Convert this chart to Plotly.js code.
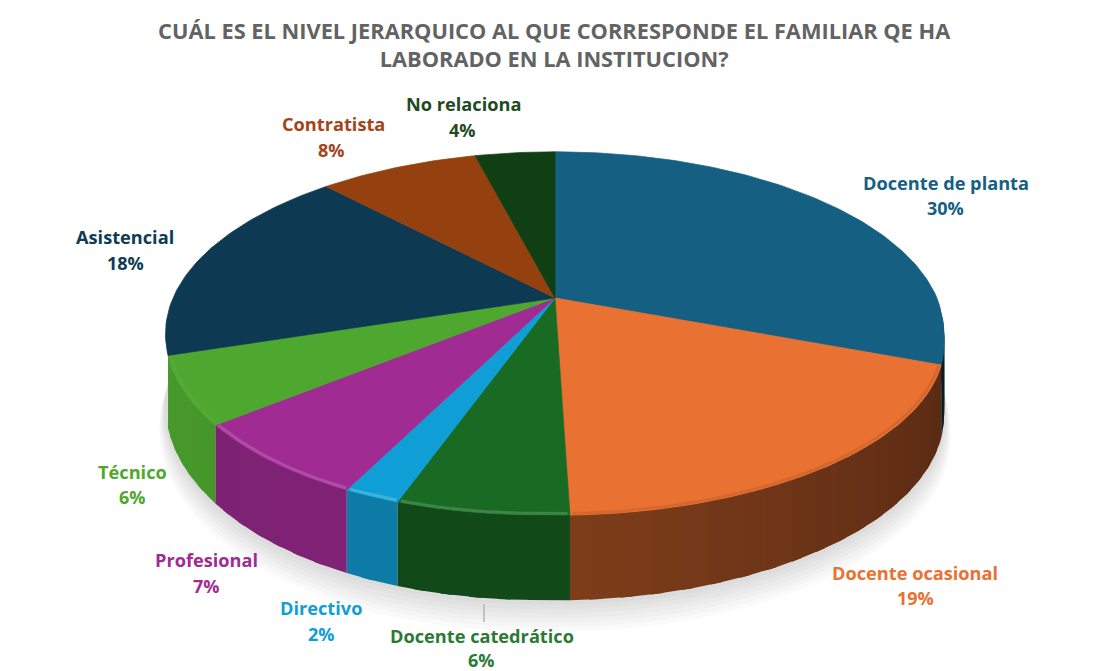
<!DOCTYPE html>
<html><head><meta charset="utf-8">
<script src="https://cdn.plot.ly/plotly-3.0.1.min.js"></script>
<style>html,body{margin:0;padding:0;background:#fff}#chart{width:1093px;height:671px}</style>
</head><body><div id="chart"></div>
<script>
// ---- data ----
var categories = ["Docente de planta","Docente ocasional","Docente catedrático","Directivo","Profesional","Técnico","Asistencial","Contratista","No relaciona"];
var percents = [30,19,6,2,7,6,18,8,4];
// ---- styles ----
var sliceColors = ["#156082","#E97132","#196B24","#0F9ED5","#A02B93","#4EA72E","#0D3A52","#94400F","#0F3F12"];
var labelColors = ["#156082","#E97132","#2A7A35","#0F9ED5","#A02B93","#4EA72E","#0F3B54","#A5431A","#1F4A22"];
var wallShadeStart = [0.30,0.38,0.68,0.78,0.80,0.90,0.6,0.6,0.6];
var wallShadeEnd   = [0.30,0.54,0.68,0.78,0.78,0.92,0.6,0.6,0.6];
var rimGain        = [0,-0.08,0.16,0.2,0.16,0.03,0,0,0];
var labelX = [946,915,482,321,206,132,125,333,463];
var labelY = [183,573,636,608,560,472,237,124,104];
var pctX   = [945,915,481,321,206,132,125,331,462];
var pctY   = [208,598,660,634,586,497,263,150,130];
var titleText = "CUÁL ES EL NIVEL JERARQUICO AL QUE CORRESPONDE EL FAMILIAR QE HA<br>LABORADO EN LA INSTITUCION?";
var fontStack = "Open Sans, Inter, sans-serif";

// ---- perspective disc projection (unit circle -> chart axes) ----
var cx = 555, cy = 298, bx = 382, by = 174.7, persp = 0.195, depth = 68.5, skew = -12, tilt = 10;
function project(deg, r, drop) {
  var t = deg * Math.PI / 180, u = r * Math.sin(t), v = -r * Math.cos(t), w = 1 - persp * v;
  var px = cx + (bx * u + skew * Math.pow(Math.max(0, v), 3)) / w;
  var py = cy + by * v / w + drop * depth / w + tilt * Math.max(0, u) * Math.min(1, Math.max(0, v / 0.3));
  return [px, py];
}
function arc(a0, a1, drop, r) {
  var n = Math.max(2, Math.ceil(Math.abs(a1 - a0))), pts = [];
  for (var i = 0; i <= n; i++) pts.push(project(a0 + (a1 - a0) * i / n, r === undefined ? 1 : r, drop));
  return pts;
}
function hexRgb(h) { return [1,3,5].map(function (i) { return parseInt(h.substr(i,2),16); }); }
function shade(h, f) { return "rgb(" + hexRgb(h).map(function (c) { return Math.round(c * f); }).join(",") + ")"; }
function lighten(h, f) { return "rgb(" + hexRgb(h).map(function (c) { return Math.round(c + (255 - c) * f); }).join(",") + ")"; }
function poly(pts, fill, lineColor, name) {
  return { type:"scatter", mode:"lines", x:pts.map(function(p){return p[0];}), y:pts.map(function(p){return p[1];}),
    fill:"toself", fillcolor:fill, line:{color:lineColor||fill,width:lineColor?0.7:0}, hoverinfo:"skip", name:name||"", showlegend:false };
}
var traces = [];
// soft ground shadow
for (var s = 7; s >= 1; s--) {
  traces.push(poly(arc(0, 360, 1 + s * 0.045, 1 + s * 0.0022), "rgba(60,60,60,0.024)"));
}
// slice boundaries from values
var bounds = [0];
percents.forEach(function (p, i) { bounds.push(bounds[i] + p * 3.6); });
var wallEnd = bounds[6];
// walls (only the front-facing part of the disc); strips overlap so no seams show
percents.forEach(function (p, i) {
  var a0 = Math.max(bounds[i], 92), a1 = Math.min(bounds[i+1], wallEnd);
  if (a1 <= a0) return;
  var n = Math.max(1, Math.ceil((a1 - a0) / 4));
  for (var k = n - 1; k >= 0; k--) {
    var s0 = a0 + (a1 - a0) * k / n, s1 = Math.min(a1, a0 + (a1 - a0) * (k + 1) / n + 1.5);
    var f = wallShadeStart[i] + (wallShadeEnd[i] - wallShadeStart[i]) * (k + 0.5) / n;
    traces.push(poly(arc(s0, s1, 0).concat(arc(s1, s0, 1)), shade(sliceColors[i], f)));
  }
});
// top faces
percents.forEach(function (p, i) {
  var col = sliceColors[i];
  traces.push(poly([[cx, cy]].concat(arc(bounds[i], bounds[i+1], 0)).concat([[cx, cy]]), col, col, categories[i]));
});
// bevelled rim along the front edge
percents.forEach(function (p, i) {
  if (!rimGain[i]) return;
  var a0 = Math.max(bounds[i], 92), a1 = Math.min(bounds[i+1], wallEnd), pts = arc(a0 + 0.3, a1 - 0.3, 0, 0.994);
  var col = rimGain[i] > 0 ? lighten(sliceColors[i], rimGain[i]) : shade(sliceColors[i], 1 + rimGain[i]);
  traces.push({ type:"scatter", mode:"lines", x:pts.map(function(q){return q[0];}), y:pts.map(function(q){return q[1];}),
    line:{color:col, width:3}, hoverinfo:"skip", showlegend:false });
});

var annotations = [];
categories.forEach(function (c, i) {
  annotations.push({ x:labelX[i], y:labelY[i], xref:"x", yref:"y", text:"<b>"+c+"</b>", showarrow:false, xanchor:"center", yanchor:"middle",
    font:{family:fontStack, size:18.2, color:labelColors[i]} });
  annotations.push({ x:pctX[i], y:pctY[i], xref:"x", yref:"y", text:"<b>"+percents[i]+"%</b>", showarrow:false, xanchor:"center", yanchor:"middle",
    font:{family:fontStack, size:18, color:labelColors[i]} });
});

var layout = {
  width:1093, height:671, margin:{l:0,r:0,t:0,b:0}, paper_bgcolor:"#fff", plot_bgcolor:"#fff", showlegend:false,
  title:{ text:"<b>"+titleText+"</b>", x:0.507, xanchor:"center", y:0.9426, yanchor:"top", font:{family:fontStack, size:21.8, color:"#636363"} },
  xaxis:{ range:[0,1093], visible:false, fixedrange:true },
  yaxis:{ range:[671,0], visible:false, fixedrange:true },
  annotations:annotations,
  shapes:[{ type:"line", xref:"x", yref:"y", x0:484, x1:484, y0:604, y1:622, line:{color:"#b5b5b5", width:1.5} }]
};
Plotly.newPlot("chart", traces, layout, {displayModeBar:false, staticPlot:true});
</script></body></html>
